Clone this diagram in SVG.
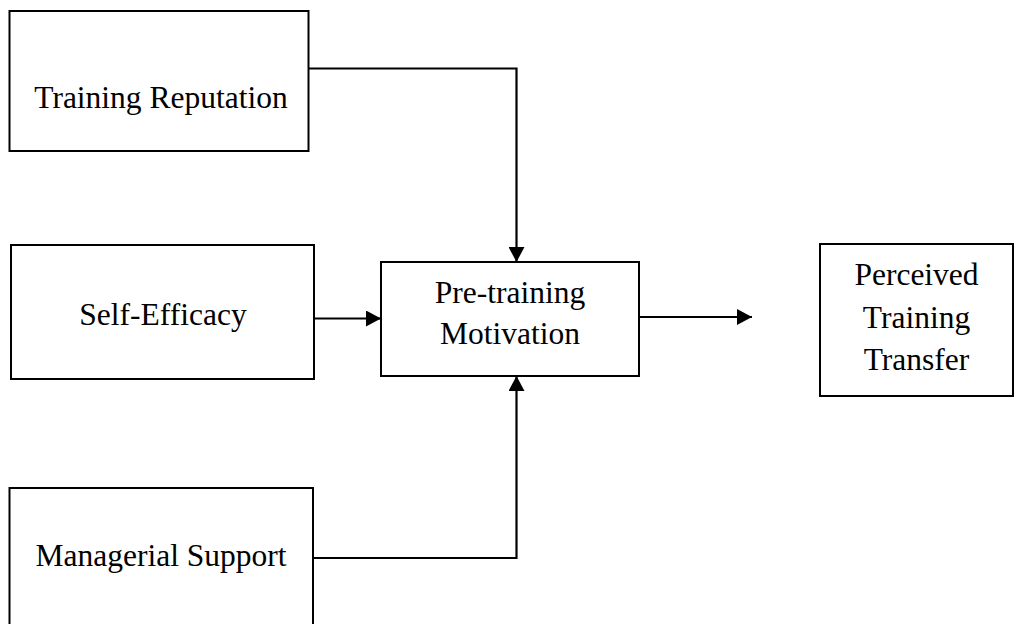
<svg xmlns="http://www.w3.org/2000/svg" width="1033" height="624" viewBox="0 0 1033 624">
  <style>
    .box { fill: #ffffff; stroke: #000000; stroke-width: 2; }
    .label { font-family: "Liberation Serif", "Times New Roman", serif; font-size: 31.5px; fill: #000000; text-anchor: middle; }
    .wire { fill: none; stroke: #000000; stroke-width: 2.2; }
  </style>
  <defs>
    <marker id="arrow" viewBox="0 0 15 16" refX="15" refY="8" markerWidth="15" markerHeight="16" markerUnits="userSpaceOnUse" orient="auto">
      <path d="M0,0 L15,8 L0,16 Z" fill="#000000"/>
    </marker>
  </defs>

  <rect width="1033" height="624" fill="#ffffff"/>

  <g id="connectors">
    <path class="wire" d="M309,68.5 H516.5 V262" marker-end="url(#arrow)"/>
    <path class="wire" d="M314,318.5 H381" marker-end="url(#arrow)"/>
    <path class="wire" d="M313,558 H516.5 V376" marker-end="url(#arrow)"/>
    <path class="wire" d="M639,317 H752" marker-end="url(#arrow)"/>
  </g>

  <g id="training-reputation">
    <rect class="box" x="9.5" y="11" width="299" height="140"/>
    <text class="label" x="161" y="108">Training Reputation</text>
  </g>

  <g id="self-efficacy">
    <rect class="box" x="11" y="245" width="303" height="134"/>
    <text class="label" x="163" y="325">Self-Efficacy</text>
  </g>

  <g id="managerial-support">
    <rect class="box" x="9.5" y="488" width="303.5" height="150"/>
    <text class="label" x="161" y="566">Managerial Support</text>
  </g>

  <g id="pre-training-motivation">
    <rect class="box" x="381" y="262" width="258" height="114"/>
    <text class="label" x="510" y="303">Pre-training</text>
    <text class="label" x="510" y="344">Motivation</text>
  </g>

  <g id="perceived-training-transfer">
    <rect class="box" x="820" y="244" width="193" height="152"/>
    <text class="label" x="916.5" y="285">Perceived</text>
    <text class="label" x="916.5" y="328">Training</text>
    <text class="label" x="916.5" y="370">Transfer</text>
  </g>
</svg>
